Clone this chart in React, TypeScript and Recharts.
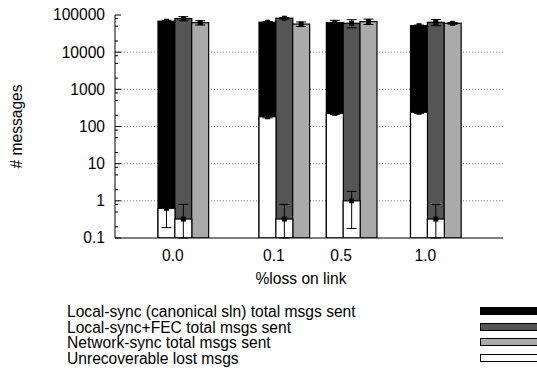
import {
  Bar,
  CartesianGrid,
  ComposedChart,
  ErrorBar,
  XAxis,
  YAxis,
} from "recharts";

const lossLevels = ["0.0", "0.1", "0.5", "1.0"];

// totals (mean, with +/- spread)
const localSync = [68000, 64000, 62000, 51500];
const localSyncErr = [4000, 3000, 10000, 2000];
const localSyncFec = [80000, 82000, 60000, 63500];
const localSyncFecErr = [10000, 4000, 15000, 12000];
const networkSync = [62000, 57000, 66500, 59700];
const networkSyncErr = [8000, 8000, 11000, 3000];

// unrecoverable lost msgs, [below, above]
const lostLocalSync = [0.63, 183, 226, 241];
const lostLocalSyncErr: [number, number][] = [
  [0.44, 0],
  [12, 12],
  [15, 15],
  [15, 15],
];
const lostFec = [0.324, 0.324, 1.0, 0.324];
const lostFecErr: [number, number][] = [
  [0.224, 0.48],
  [0.224, 0.48],
  [0.82, 0.8],
  [0.224, 0.47],
];

const yMajor = [0.1, 1, 10, 100, 1000, 10000, 100000];
const yMinorSteps = [2, 5, 8];

const legendLabels = [
  "Local-sync (canonical sln) total msgs sent",
  "Local-sync+FEC total msgs sent",
  "Network-sync total msgs sent",
  "Unrecoverable lost msgs",
];

// empty bar slots before each group, as in the original histogram
const gapBefore = [0, 3, 1, 2];

const FONT = '"Liberation Sans", Arial, Helvetica, sans-serif';
const FS = 15.6;
const BLACK = "#000000";
const DARK = "#555555";
const LIGHT = "#aaaaaa";

type Row = {
  slot: string;
  total?: number;
  totalErr?: [number, number];
  lost?: number;
  lostErr?: [number, number];
  fill?: string;
  label?: string;
};

const rows: Row[] = [];
lossLevels.forEach((lvl, i) => {
  for (let g = 0; g < gapBefore[i]; g++) rows.push({ slot: `gap${i}-${g}` });
  rows.push({
    slot: `${lvl}-a`,
    total: localSync[i],
    totalErr: [localSyncErr[i], localSyncErr[i]],
    lost: lostLocalSync[i],
    lostErr: lostLocalSyncErr[i],
    fill: BLACK,
    label: lvl,
  });
  rows.push({
    slot: `${lvl}-b`,
    total: localSyncFec[i],
    totalErr: [localSyncFecErr[i], localSyncFecErr[i]],
    lost: lostFec[i],
    lostErr: lostFecErr[i],
    fill: DARK,
  });
  rows.push({
    slot: `${lvl}-c`,
    total: networkSync[i],
    totalErr: [networkSyncErr[i], networkSyncErr[i]],
    fill: LIGHT,
  });
});
const rowBySlot = new Map(rows.map((r) => [r.slot, r]));

const yTicks: number[] = [];
yMajor.forEach((m, i) => {
  yTicks.push(m);
  if (i < yMajor.length - 1) yMinorSteps.forEach((s) => yTicks.push(m * s));
});

const isFiniteNum = (v: unknown) => typeof v === "number" && Number.isFinite(v);

function BarShape(props: any) {
  const { x, y, width, height, payload, lostBar } = props;
  if (![x, y, width, height].every(isFiniteNum) || height <= 0) return <g />;
  const fill = lostBar ? "#ffffff" : payload.fill;
  const cx = x + width / 2;
  return (
    <g>
      <rect x={x} y={y} width={width} height={height} fill={fill} stroke="#000" strokeWidth={1.2} />
      <rect x={cx - 2.5} y={y - 2.5} width={5} height={5} fill="#000" />
    </g>
  );
}

function LeftTick(props: any) {
  const { x, y, payload } = props;
  const v = payload.value as number;
  const major = yMajor.includes(v);
  const ax = x + 10;
  return (
    <g>
      <line x1={ax} x2={ax + (major ? 6 : 3)} y1={y} y2={y} stroke="#000" />
      {major && (
        <text x={x} y={y} dy="0.35em" textAnchor="end" fontFamily={FONT} fontSize={FS} fill="#000">
          {String(v)}
        </text>
      )}
    </g>
  );
}

function RightTick(props: any) {
  const { x, y, payload } = props;
  const major = yMajor.includes(payload.value as number);
  return <line x1={x} x2={x - (major ? 6 : 3)} y1={y} y2={y} stroke="#000" />;
}

function BottomTick(props: any) {
  const { x, y, payload } = props;
  const row = rowBySlot.get(payload.value);
  if (!row || !row.label) return <g />;
  const off = isFiniteNum(payload.offset) ? payload.offset : 8.4;
  return (
    <text x={x + off - 2} y={y + 18} dy="0.35em" textAnchor="middle" fontFamily={FONT} fontSize={FS} fill="#000">
      {row.label}
    </text>
  );
}

function TopTick(props: any) {
  const { x, y, payload } = props;
  const row = rowBySlot.get(payload.value);
  if (!row || !row.label) return <g />;
  const off = isFiniteNum(payload.offset) ? payload.offset : 8.4;
  return <line x1={x + off - 1} x2={x + off - 1} y1={y} y2={y + 5} stroke="#000" />;
}

const swatchFills = [BLACK, DARK, LIGHT, "#ffffff"];

export default function App() {
  return (
    <div style={{ position: "absolute", left: 0, top: 0, width: 537, height: 368, background: "#fff", overflow: "hidden" }}>
      <ComposedChart
        width={537}
        height={368}
        data={rows}
        margin={{ top: 15, right: 34, bottom: 80, left: 0 }}
        barCategoryGap={0}
        barGap={0}
      >
        <CartesianGrid
          xAxisId="main"
          yAxisId="left"
          vertical={false}
          horizontalValues={[1, 10, 100, 1000, 10000]}
          stroke="#777"
          strokeDasharray="1 2"
        />
        <XAxis
          xAxisId="main"
          dataKey="slot"
          height={50}
          padding={{ left: 43, right: 42 }}
          interval={0}
          tickLine={false}
          tickSize={0}
          tickMargin={0}
          tick={<BottomTick />}
          axisLine={{ stroke: "#000" }}
          label={{
            value: "%loss on link",
            position: "insideBottom",
            offset: 4,
            dx: -8,
            fill: "#000",
            style: { fontFamily: FONT, fontSize: FS },
          }}
        />
        <XAxis xAxisId="lost" dataKey="slot" hide height={0} padding={{ left: 43, right: 42 }} />
        <XAxis
          xAxisId="top"
          dataKey="slot"
          orientation="top"
          height={0}
          padding={{ left: 43, right: 42 }}
          interval={0}
          tickLine={false}
          tickSize={0}
          tickMargin={0}
          tick={<TopTick />}
          axisLine={{ stroke: "#000" }}
        />
        <YAxis
          yAxisId="left"
          scale="log"
          domain={[0.1, 100000]}
          allowDataOverflow
          ticks={yTicks}
          interval={0}
          width={115}
          tickLine={false}
          tickSize={0}
          tickMargin={10}
          tick={<LeftTick />}
          axisLine={{ stroke: "#000" }}
          label={{
            value: "# messages",
            angle: -90,
            position: "insideLeft",
            offset: 16,
            fill: "#000",
            style: { fontFamily: FONT, fontSize: FS, textAnchor: "middle" },
          }}
        />
        <YAxis
          yAxisId="right"
          orientation="right"
          scale="log"
          domain={[0.1, 100000]}
          allowDataOverflow
          ticks={yTicks}
          interval={0}
          width={0}
          tickLine={false}
          tickSize={0}
          tickMargin={0}
          tick={<RightTick />}
          axisLine={{ stroke: "#000" }}
        />
        <Bar
          xAxisId="main"
          yAxisId="left"
          dataKey="total"
          isAnimationActive={false}
          shape={(p: any) => <BarShape {...p} />}
        >
          <ErrorBar dataKey="totalErr" width={5} stroke="#000" strokeWidth={1} direction="y" />
        </Bar>
        <Bar
          xAxisId="lost"
          yAxisId="left"
          dataKey="lost"
          isAnimationActive={false}
          shape={(p: any) => <BarShape {...p} lostBar />}
        >
          <ErrorBar dataKey="lostErr" width={5} stroke="#000" strokeWidth={1} direction="y" />
        </Bar>
      </ComposedChart>
      <div style={{ position: "absolute", left: 67, top: 304, fontFamily: FONT, fontSize: FS, lineHeight: "15.7px", color: "#000" }}>
        {legendLabels.map((l) => (
          <div key={l} style={{ whiteSpace: "nowrap" }}>{l}</div>
        ))}
      </div>
      {legendLabels.map((l, i) => (
        <div
          key={`sw-${l}`}
          style={{
            position: "absolute",
            left: 480,
            top: 307 + i * 15.7,
            width: 70,
            height: 6,
            background: swatchFills[i],
            border: "1.5px solid #000",
          }}
        />
      ))}
    </div>
  );
}
